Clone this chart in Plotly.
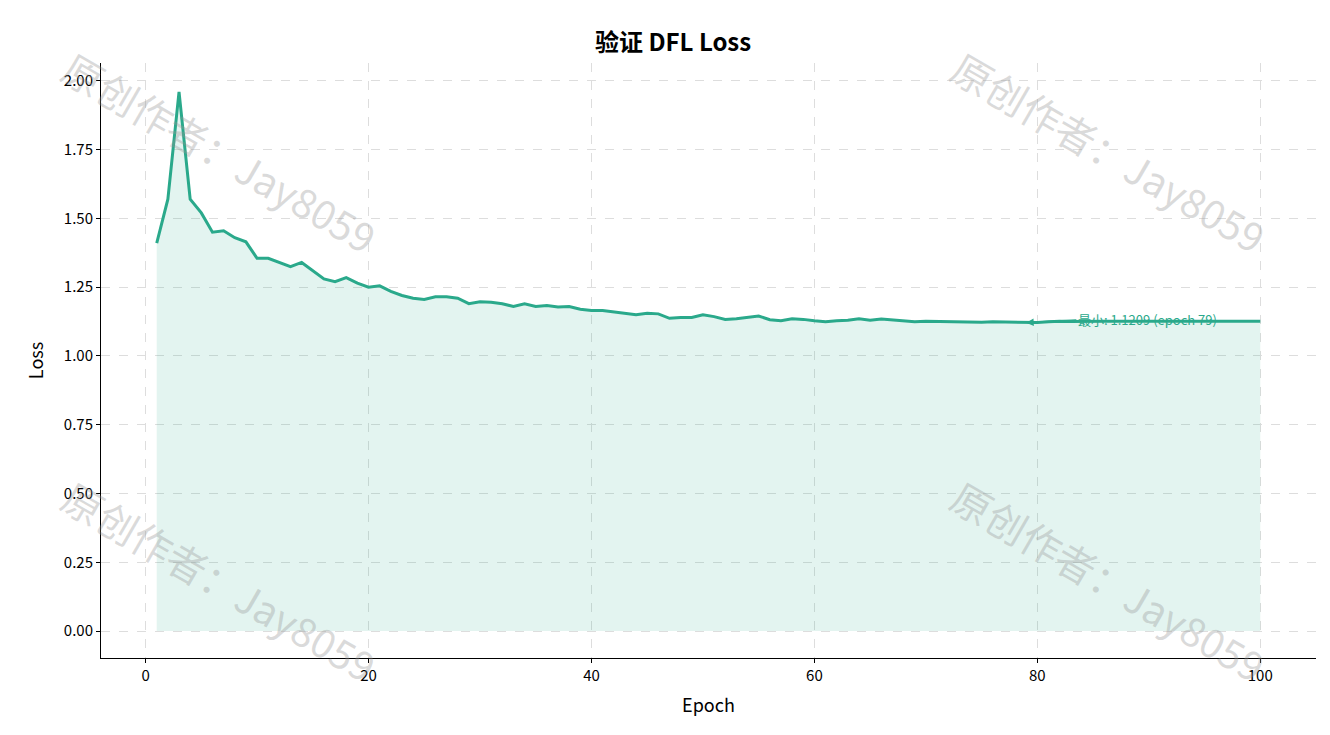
import plotly.graph_objects as go

epochs = list(range(1, 101))
loss = [1.41, 1.57, 1.96, 1.57, 1.52, 1.45, 1.455, 1.43, 1.415, 1.355,
        1.355, 1.34, 1.325, 1.34, 1.31, 1.28, 1.27, 1.285, 1.265, 1.25,
        1.255, 1.235, 1.22, 1.21, 1.205, 1.215, 1.215, 1.21, 1.19, 1.197,
        1.195, 1.19, 1.18, 1.19, 1.18, 1.183, 1.178, 1.18, 1.17, 1.165,
        1.165, 1.16, 1.153, 1.15, 1.155, 1.153, 1.137, 1.14, 1.14, 1.15,
        1.143, 1.133, 1.135, 1.14, 1.145, 1.132, 1.128, 1.135, 1.133, 1.128,
        1.124, 1.128, 1.13, 1.135, 1.13, 1.134, 1.13, 1.126, 1.124, 1.126,
        1.125, 1.124, 1.125, 1.124, 1.123, 1.124, 1.123, 1.122, 1.1209, 1.122,
        1.124, 1.126, 1.125, 1.126, 1.127, 1.126, 1.126, 1.125, 1.126, 1.126,
        1.125, 1.126, 1.126, 1.125, 1.126, 1.126, 1.126, 1.125, 1.126, 1.126]

teal = "#2aa98b"
font = "Noto Sans CJK SC"

min_i = loss.index(min(loss))
min_ep, min_val = epochs[min_i], loss[min_i]

fig = go.Figure()
fig.add_trace(go.Scatter(x=epochs, y=[0] * len(epochs), mode="lines",
                         line=dict(width=0), showlegend=False, hoverinfo="skip"))
fig.add_trace(go.Scatter(x=epochs, y=loss, mode="lines", fill="tonexty",
                         fillcolor="rgba(42,169,139,0.13)",
                         line=dict(color=teal, width=3), showlegend=False))

fig.add_annotation(x=min_ep, y=min_val, ax=83.5, ay=min_val + 0.01,
                   axref="x", ayref="y", text=f"最小: {min_val:.4f} (epoch {min_ep})",
                   xanchor="left", showarrow=True, arrowhead=2, arrowsize=1,
                   arrowwidth=1.5, arrowcolor=teal,
                   font=dict(color=teal, size=13, family=font))

for px, py in [(0.098, 0.85), (0.83, 0.85), (0.098, 0.13), (0.83, 0.13)]:
    fig.add_annotation(x=px, y=py, xref="paper", yref="paper", text="原创作者：Jay8059",
                       showarrow=False, textangle=30, xanchor="center", yanchor="middle",
                       font=dict(size=40, color="rgba(150,150,150,0.35)", family=font))

axis = dict(showline=True, linecolor="black", linewidth=1, ticks="outside",
            ticklen=4, tickcolor="black", showgrid=True, gridcolor="#dddddd",
            griddash="dash", zeroline=False, tickfont=dict(size=15, color="black"))

fig.update_layout(
    width=1330, height=735,
    paper_bgcolor="white", plot_bgcolor="white",
    font=dict(family=font),
    title=dict(text="<b>验证 DFL Loss</b>", x=0.5, y=0.965, xanchor="center",
               font=dict(size=24, color="black")),
    margin=dict(l=93, r=22, t=55, b=85),
    xaxis=dict(axis, range=[-4, 105], dtick=20,
               title=dict(text="Epoch", font=dict(size=18, color="black"))),
    yaxis=dict(axis, range=[-0.098, 2.065], dtick=0.25, tickformat=".2f",
               title=dict(text="Loss", font=dict(size=18, color="black"))),
)

fig.write_html("out.html")
